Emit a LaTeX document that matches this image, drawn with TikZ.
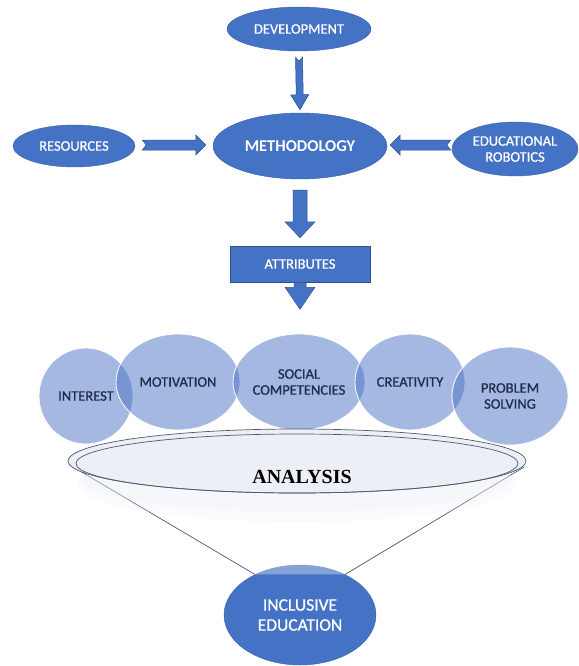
\documentclass[tikz,border=0pt]{standalone}
\usepackage{fontspec}
\setmainfont{Carlito}
\newfontfamily\semib{Carlito}[BoldFont=Carlito, BoldFeatures={FakeBold=0.9}]
\newfontfamily\serifbold{Liberation Serif}
\usetikzlibrary{shapes.geometric,calc}
\definecolor{dblue}{HTML}{4472C4}
\definecolor{dedge}{HTML}{3A62AA}
\definecolor{aedge}{HTML}{2F528F}
\definecolor{cblue}{HTML}{4A72C4}
\definecolor{navy}{HTML}{1F2D4D}
\definecolor{gline}{HTML}{4D5A6E}
\definecolor{anafill}{HTML}{ECEFF5}
\definecolor{shadowc}{HTML}{E9EDF4}

\newcommand\blockarrow[6]{%
 \path[blockarr] let \p1=(#1), \p2=(#2), \n1={atan2(\y2-\y1,\x2-\x1)}, \n2={veclen(\x2-\x1,\y2-\y1)} in
 [shift={(\p1)}, rotate=\n1]
 (0pt,-#3) -- ({\n2*1pt-#5},-#3) -- ({\n2*1pt-#5},-#4) -- ({\n2*1pt},0pt) -- ({\n2*1pt-#5},#4) -- ({\n2*1pt-#5},#3) -- (0pt,#3) -- (#6,0pt) -- cycle;}

\tikzset{
  darkell/.style={ellipse, fill=dblue, draw=dedge, line width=0.4pt, text=white, inner sep=0pt, align=center, font=\semib\bfseries\fontsize{14.5}{16}\selectfont},
  circ/.style={ellipse, fill=cblue, fill opacity=0.5, text opacity=1, draw=white, line width=0.8pt, text=navy, inner sep=0pt, align=center, font=\semib\bfseries\fontsize{14.5}{16}\selectfont},
  blockarr/.style={fill=dblue, draw=aedge, line width=0.5pt, line join=miter},
  funnel/.style={draw=gline, line width=0.7pt},
}

\begin{document}
\begin{tikzpicture}[x=1pt, y=-1pt]
\useasboundingbox (0,0) rectangle (578,666);

% top nodes
\node[darkell, minimum width=144pt, minimum height=44pt] (dev) at (299,29) {DEVELOPMENT};
\node[darkell, minimum width=174pt, minimum height=66pt, font=\normalfont\bfseries\fontsize{16.5}{18}\selectfont] (meth) at (300,146) {METHODOLOGY};
\node[darkell, minimum width=122pt, minimum height=42pt] (res) at (74,146) {RESOURCES};
\node[darkell, minimum width=126pt, minimum height=54pt] (edu) at (515,149) {EDUCATIONAL\\ROBOTICS};
\node[rectangle, fill=dblue, draw=aedge, line width=0.5pt, text=white, minimum width=140pt, minimum height=36pt, inner sep=0pt, font=\semib\bfseries\fontsize{14.5}{16}\selectfont] (attr) at (300,264) {ATTRIBUTES};

% block arrows
\coordinate (a1s) at ($(dev.south)+(0,6)$);
\coordinate (a1e) at ($(meth.north)+(0,-3)$);
\blockarrow{a1s}{a1e}{3.5pt}{9pt}{15pt}{4pt}
\coordinate (a2s) at ($(res.east)+(7,-1)$);
\coordinate (a2e) at ($(meth.west)+(-7,-1)$);
\blockarrow{a2s}{a2e}{5pt}{10pt}{10pt}{4pt}
\coordinate (a3s) at ($(edu.west)+(-1,-4)$);
\coordinate (a3e) at ($(meth.east)+(3,-1)$);
\blockarrow{a3s}{a3e}{5pt}{10pt}{10pt}{4pt}
\coordinate (a4s) at ($(meth.south)+(0,11)$);
\coordinate (a4e) at ($(attr.north)+(0,-8)$);
\blockarrow{a4s}{a4e}{7pt}{15pt}{16pt}{0pt}
\coordinate (a5s) at (attr.south);
\coordinate (a5e) at ($(attr.south)+(0,27)$);
\blockarrow{a5s}{a5e}{6pt}{15pt}{22pt}{0pt}

% inclusive education
\node[darkell, minimum width=152pt, minimum height=100pt, font=\semib\bfseries\fontsize{17.5}{20}\selectfont] (incl) at (300,615) {INCLUSIVE\\EDUCATION};

% attribute circles
\node[circ, minimum width=94pt, minimum height=96pt] (interest) at (86,396) {INTEREST};
\node[circ, minimum width=124pt, minimum height=96pt] (motiv) at (178,382) {MOTIVATION};
\node[circ, minimum width=132pt, minimum height=96pt] (social) at (299,382) {SOCIAL\\COMPETENCIES};
\node[circ, minimum width=110pt, minimum height=96pt] (creat) at (410,382) {CREATIVITY};
\node[circ, minimum width=116pt, minimum height=98pt] (probl) at (510,396) {PROBLEM\\SOLVING};

% analysis funnel
\node[ellipse, minimum width=458pt, minimum height=64pt, inner sep=0pt] (ana) at (297,461) {};
\coordinate (fl) at ($(ana.west)+(2,4)$);
\coordinate (fr) at ($(ana.east)+(-2,6)$);
\fill[white, fill opacity=0.35] (fl) -- (incl.138) -- (incl.42) -- (fr) -- cycle;
\draw[funnel] (fl) -- (incl.138);
\draw[funnel] (fr) -- (incl.42);
% soft shadow under the analysis ellipse
\fill[shadowc, opacity=0.2] (297,484) ellipse [x radius=220pt, y radius=38pt];
\fill[shadowc, opacity=0.3] (297,480) ellipse [x radius=214pt, y radius=32pt];
\fill[anafill, draw=gline, line width=0.7pt] (ana.center) ellipse [x radius=229pt, y radius=32pt];
\draw[gline, line width=0.7pt] (297,463.5) ellipse [x radius=221pt, y radius=29.5pt];
\node[font=\serifbold\bfseries\fontsize{20}{22}\selectfont, text=black] (anatext) at (302,477) {ANALYSIS};
\end{tikzpicture}
\end{document}
